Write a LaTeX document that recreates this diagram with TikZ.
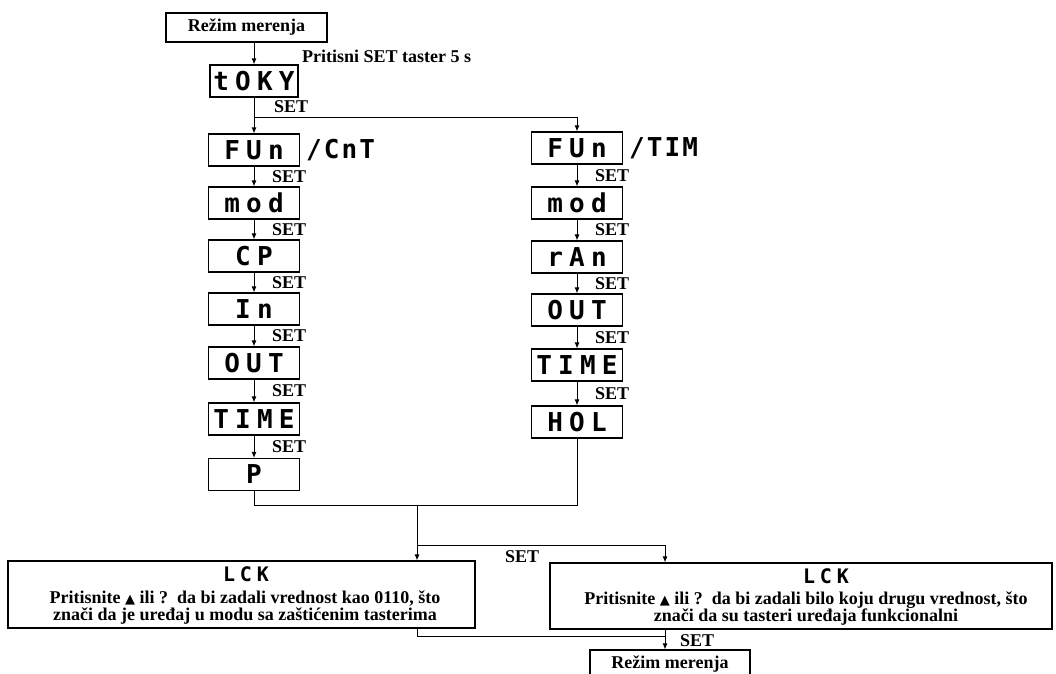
\documentclass[tikz,border=0pt]{standalone}
\usepackage{fontspec}
\setmainfont{Liberation Serif}
\newfontfamily\segfont{DejaVu Sans Mono}[LetterSpace=24]
\newfontfamily\segfontb{DejaVu Sans Mono}[LetterSpace=8]
\newfontfamily\symfont{DejaVu Sans}
\usetikzlibrary{arrows.meta}
\begin{document}
\begin{tikzpicture}[x=1pt,y=-1pt,
  lbl/.style={font=\bfseries\fontsize{18}{18}\selectfont},
  boxed/.style={draw,line width=1.2pt,inner sep=0pt},
  disp/.style={boxed,minimum width=91pt,minimum height=32pt,font=\segfont\bfseries\fontsize{26}{26}\selectfont},
  segtxt/.style={inner sep=0pt,font=\segfontb\bfseries\fontsize{26}{26}\selectfont},
  lcktxt/.style={inner sep=0pt,font=\segfont\bfseries\fontsize{20}{20}\selectfont},
  bodytxt/.style={inner sep=0pt,align=center,font=\bfseries\fontsize{18}{17}\selectfont},
  setl/.style={lbl,anchor=west,inner sep=0pt},
  arr/.style={-{Latex[length=6pt,width=5pt]},line width=0.9pt},
  ln/.style={line width=0.9pt}]
\useasboundingbox (0,0) rectangle (1056,673);
% top
\node[boxed,lbl,minimum width=161pt,minimum height=29pt] (r1) at (246.5,27.5) {Režim merenja};
\node[setl] (press) at (302,56) {Pritisni SET taster 5 s};
\node[disp,minimum width=88pt] (t) at (254,81) {tOKY};
% left column
\node[disp] (f1) at (254,150) {FUn};
\node[segtxt,anchor=west] (cnt) at (306,150) {/CnT};
\node[disp] (m1) at (254,203) {mod};
\node[disp] (c1) at (254,256) {CP};
\node[disp] (i1) at (254,309) {In};
\node[disp] (o1) at (254,363) {OUT};
\node[disp] (ti1) at (254,419) {TIME};
\node[disp] (p1) at (254,474.5) {P};
% right column
\node[disp] (f2) at (577,148) {FUn};
\node[segtxt,anchor=west] (tim) at (629,148) {/TIM};
\node[disp] (m2) at (577,203) {mod};
\node[disp] (rn2) at (577,257) {rAn};
\node[disp] (o2) at (577,310) {OUT};
\node[disp] (ti2) at (577,365) {TIME};
\node[disp] (h2) at (577,422) {HOL};
% SET labels
\node[setl] at (274,107) {SET};
\node[setl] at (272,176.5) {SET};
\node[setl] at (272,229.5) {SET};
\node[setl] at (272,282.5) {SET};
\node[setl] at (272,336) {SET};
\node[setl] at (272,391) {SET};
\node[setl] at (272,446.5) {SET};
\node[setl] at (595,175.5) {SET};
\node[setl] at (595,230) {SET};
\node[setl] at (595,283.5) {SET};
\node[setl] at (595,337.5) {SET};
\node[setl] at (595,393.5) {SET};
% top connectors
\draw[arr] (r1.south -| t.north) -- (t.north);
\coordinate (j1) at (254,117);
\draw[ln] (t.south) -- (j1);
\draw[arr] (j1) -- (f1.north);
\draw[arr] (j1) -| (f2.north);
\foreach \a/\b in {f1/m1,m1/c1,c1/i1,i1/o1,o1/ti1,ti1/p1,f2/m2,m2/rn2,rn2/o2,o2/ti2,ti2/h2}
  \draw[arr] (\a.south) -- (\b.north);
% bottom boxes
\node[boxed,minimum width=467pt,minimum height=67pt] (lb) at (241.5,594.5) {};
\node[lcktxt] (lck1) at (246,574) {LCK};
\node[bodytxt] (lt) at (245,607.5)
  {Pritisnite {\symfont\fontsize{13}{13}\selectfont ▲} ili ?\ \ da bi zadali vrednost kao 0110, što\\
   znači da je uređaj u modu sa zaštićenim tasterima};
\node[boxed,minimum width=502pt,minimum height=66pt] (rb) at (801,596) {};
\node[lcktxt] (lck2) at (826,576) {LCK};
\node[bodytxt] (rt) at (806,608.5)
  {Pritisnite {\symfont\fontsize{13}{13}\selectfont ▲} ili ?\ \ da bi zadali bilo koju drugu vrednost, što\\
   znači da su tasteri uređaja funkcionalni};
\node[boxed,lbl,minimum width=160pt,minimum height=29pt] (r2) at (670,664.5) {Režim merenja};
% bottom connectors
\coordinate (m) at (417,505);
\draw[ln] (p1.south) |- (m) -| (h2.south);
\draw[arr] (m) -- (m |- lb.north);
\coordinate (b) at (417,545);
\coordinate (rax) at (665,0);
\draw[arr] (b) -| (rax |- rb.north);
\node[setl] at (505,557) {SET};
\coordinate (c) at (417,636);
\draw[ln] (m |- lb.south) -- (c) -- (c -| rax);
\draw[arr] (rax |- rb.south) -- (rax |- r2.north);
\node[setl] at (680,641) {SET};
\end{tikzpicture}
\end{document}
